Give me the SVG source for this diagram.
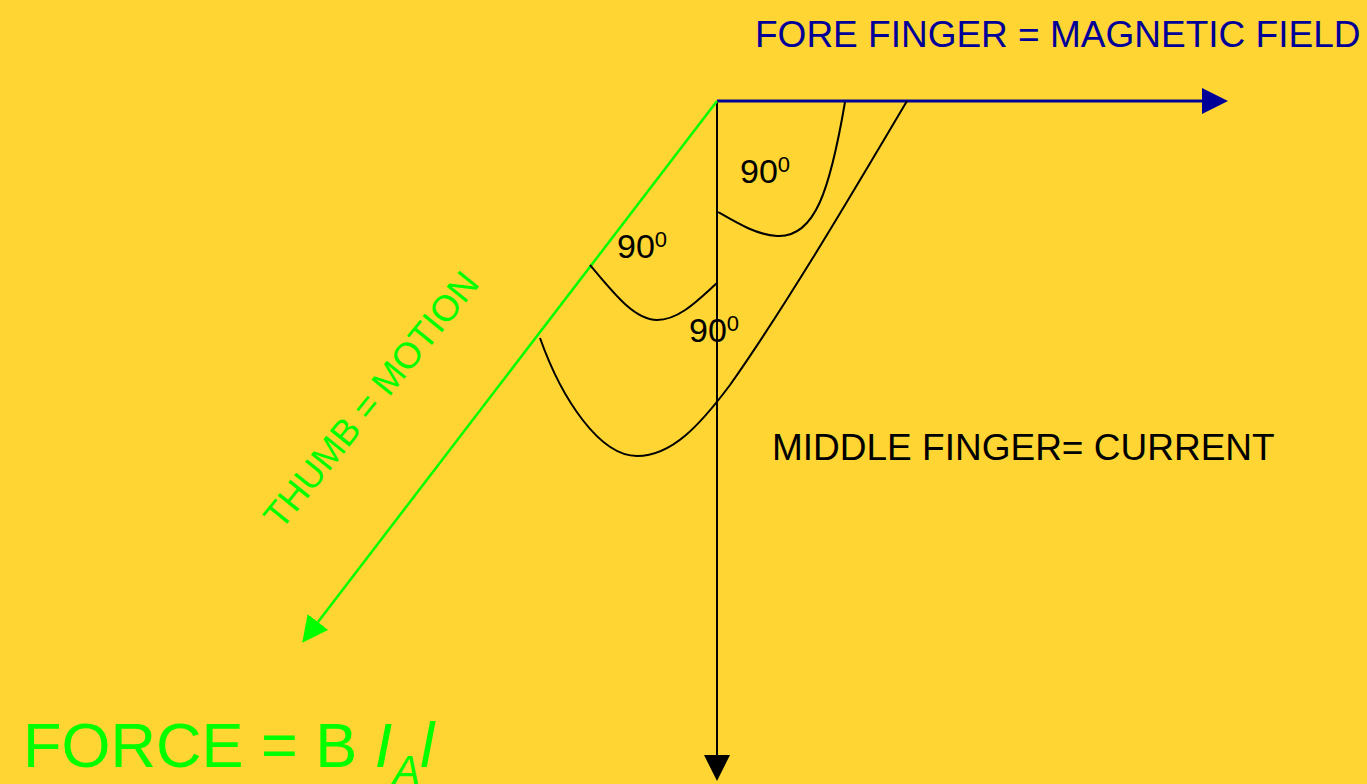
<svg xmlns="http://www.w3.org/2000/svg" width="1367" height="784" viewBox="0 0 1367 784">
<style>
.t{font-family:"Liberation Sans",Arial,sans-serif}
.curve{fill:none;stroke:#000;stroke-width:2}
</style>
<defs>
<marker id="ab" markerUnits="userSpaceOnUse" markerWidth="26" markerHeight="26" viewBox="0 0 26 26" refX="0" refY="13" orient="auto"><path d="M0,0 L26,13 L0,26 z" fill="#000099"/></marker>
<marker id="ak" markerUnits="userSpaceOnUse" markerWidth="26" markerHeight="26" viewBox="0 0 26 26" refX="0" refY="13" orient="auto"><path d="M0,0 L26,13 L0,26 z" fill="#000"/></marker>
<marker id="ag" markerUnits="userSpaceOnUse" markerWidth="26" markerHeight="26" viewBox="0 0 26 26" refX="0" refY="13" orient="auto"><path d="M0,0 L26,13 L0,26 z" fill="#00FF00"/></marker>
</defs>
<rect width="1367" height="784" fill="#FED532"/>
<g id="connectors">
<line x1="717" y1="101" x2="1202" y2="101" stroke="#000099" stroke-width="3" marker-end="url(#ab)"/>
<line x1="717" y1="101" x2="717" y2="755" stroke="#000" stroke-width="2" marker-end="url(#ak)"/>
<line x1="717" y1="101" x2="318" y2="622" stroke="#00FF00" stroke-width="2.5" marker-end="url(#ag)"/>
<path class="curve" d="M845,102 C830,190 815,238 777,236 C757,235 737,223 718,212"/>
<path class="curve" d="M590,265 C615,295 635,320 657,320 C680,320 700,298 717,283"/>
<path class="curve" d="M540,338 C562,400 600,456 637,456 C672,456 700,425 730,385 C790,300 860,180 907,101"/>
</g>
<g id="fore-label"><text class="t" x="755" y="47" font-size="37" fill="#000099">FORE FINGER = MAGNETIC FIELD</text></g>
<g id="middle-label"><text class="t" x="772" y="460" font-size="37" fill="#000">MIDDLE FINGER= CURRENT</text></g>
<g id="thumb-label"><text class="t" x="281" y="531" font-size="36.5" fill="#00FF00" transform="rotate(-51 281 531)">THUMB = MOTION</text></g>
<g id="angle1"><text class="t" x="740" y="183" font-size="34" fill="#000">90<tspan font-size="22" dy="-11">0</tspan></text></g>
<g id="angle2"><text class="t" x="617" y="258" font-size="34" fill="#000">90<tspan font-size="22" dy="-11">0</tspan></text></g>
<g id="angle3"><text class="t" x="689" y="342" font-size="34" fill="#000">90<tspan font-size="22" dy="-11">0</tspan></text></g>
<g id="formula"><text class="t" x="23" y="767" font-size="63" fill="#00FF00">FORCE = B <tspan font-style="italic">I</tspan><tspan font-style="italic" font-size="42" dy="18">A</tspan><tspan font-style="italic" dy="-18">l</tspan></text></g>
</svg>
